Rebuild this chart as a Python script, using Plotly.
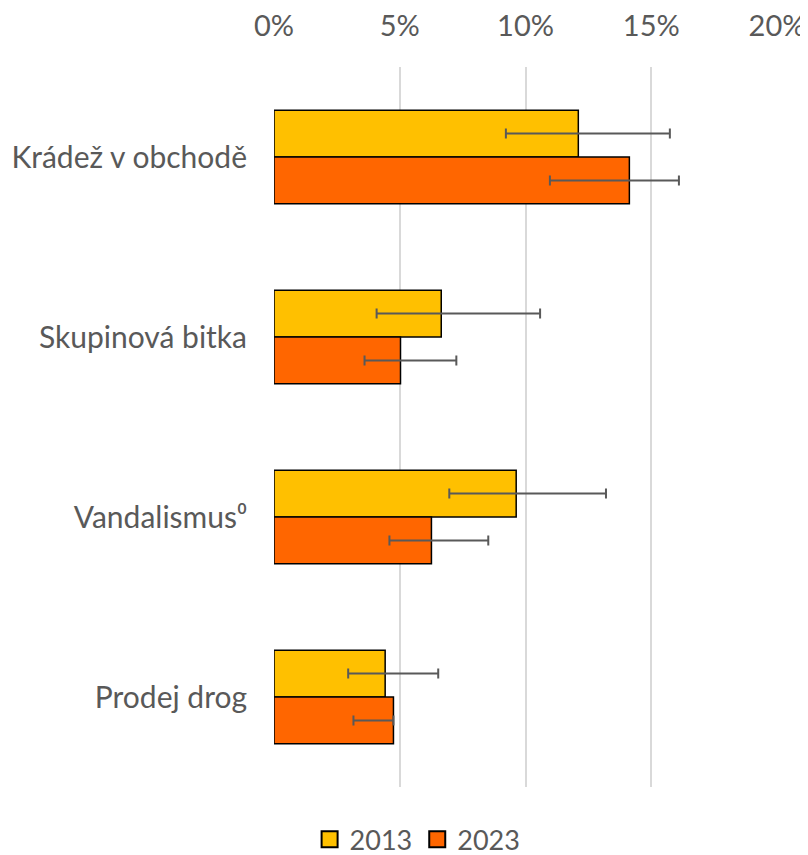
import plotly.graph_objects as go

categories = ["Krádež v obchodě", "Skupinová bitka", "Vandalismus\u2070", "Prodej drog"]
series_names = ["2013", "2023"]
values_2013 = [12.10, 6.65, 9.63, 4.42]
low_2013 = [9.22, 4.08, 6.97, 2.95]
high_2013 = [15.74, 10.58, 13.20, 6.53]
values_2023 = [14.13, 5.03, 6.26, 4.75]
low_2023 = [10.97, 3.60, 4.59, 3.16]
high_2023 = [16.10, 7.25, 8.52, 4.75]
tick_vals = [0, 5, 10, 15, 20]
tick_text = ["0%", "5%", "10%", "15%", "20%"]
colors = ["#FFC000", "#FF6600"]

FONT = "Lato, 'Open Sans', sans-serif"
GREY = "#595959"

fig = go.Figure()
for name, vals, lo, hi, col in [
    (series_names[0], values_2013, low_2013, high_2013, colors[0]),
    (series_names[1], values_2023, low_2023, high_2023, colors[1]),
]:
    fig.add_trace(go.Bar(
        name=name, y=categories, x=vals, orientation="h", showlegend=False,
        marker=dict(color=col, line=dict(color="#000000", width=1.5)),
        error_x=dict(type="data", symmetric=False,
                     array=[h - v for h, v in zip(hi, vals)],
                     arrayminus=[v - l for v, l in zip(vals, lo)],
                     color=GREY, thickness=2, width=5),
    ))
# legend entries with larger square swatches
for name, col in zip(series_names, colors):
    fig.add_trace(go.Scatter(
        name=name, x=[None], y=[None], mode="markers",
        marker=dict(symbol="square", size=16, color=col, line=dict(color="#000000", width=2)),
        showlegend=True,
    ))

fig.update_layout(
    width=800, height=847,
    margin=dict(l=266, r=31, t=59, b=68),
    paper_bgcolor="white", plot_bgcolor="white",
    barmode="group", bargap=0.48, bargroupgap=0,
    font=dict(family=FONT, size=26, color=GREY),
    showlegend=True,
    legend=dict(orientation="h", xref="container", yref="container",
                x=0.512, xanchor="center", y=0.018, yanchor="middle",
                font=dict(size=27, color=GREY), itemwidth=30, traceorder="normal",
                itemsizing="trace", tracegroupgap=0),
    xaxis=dict(side="top", range=[0, 20], tickvals=tick_vals, ticktext=tick_text,
               showgrid=True, gridcolor="#D9D9D9", gridwidth=2, zeroline=False,
               showline=False, ticks="", ticklabelstandoff=24, automargin=False,
               tickfont=dict(size=29, color=GREY)),
    yaxis=dict(autorange="reversed", showgrid=False, zeroline=False, showline=False,
               ticks="", ticklabelstandoff=26, automargin=False,
               tickfont=dict(size=30, color=GREY)),
)

fig.write_html("out.html")
